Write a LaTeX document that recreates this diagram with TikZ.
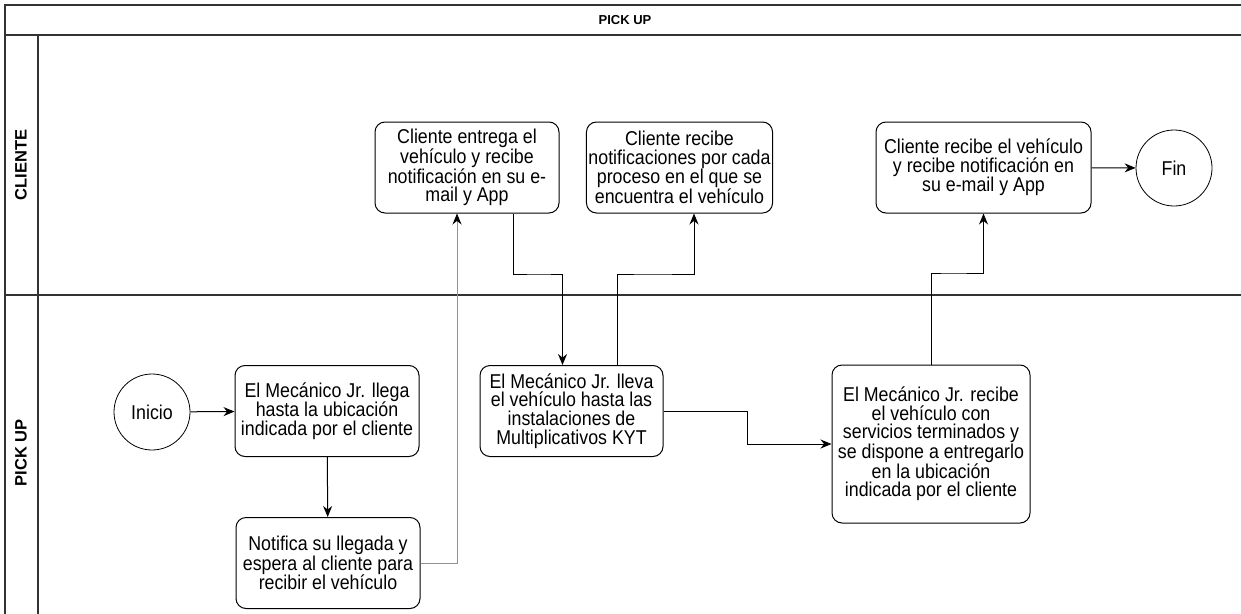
\documentclass[tikz,border=0pt]{standalone}
\usepackage{fontspec}
\setmainfont{Liberation Sans}
\newfontfamily\boxfont{Liberation Sans}[FakeStretch=0.89]
\usetikzlibrary{arrows.meta}

\begin{document}
\begin{tikzpicture}[x=1pt,y=-1pt,
  box/.style={draw,rounded corners=10pt,line width=1pt,align=center,inner sep=2pt,minimum height=91pt,font=\boxfont\fontsize{20}{18.6}\selectfont},
  term/.style={draw,circle,line width=0.8pt,minimum size=76pt,inner sep=0pt,font=\boxfont\fontsize{20}{18.6}\selectfont},
  flow/.style={line width=1pt,-{Stealth[length=11pt,width=9pt]}},
  flowgray/.style={line width=1pt,gray!85,-{Stealth[length=11pt,width=9pt,color=black]}},
  lane/.style={font=\fontsize{16.5}{16.5}\selectfont\bfseries,rotate=90}]
\useasboundingbox (0,0) rectangle (1241,613);
\clip (0,0) rectangle (1241,613);

\draw[line width=1.2pt,black!80] (5,625) -- (5,5) -- (1250,5);
\draw[line width=1.2pt,black!80] (5,35) -- (1250,35);
\draw[line width=1.2pt,black!80] (38,35) -- (38,625);
\draw[line width=1.2pt,black!80] (5,295) -- (1250,295);

\node[font=\fontsize{13}{13}\selectfont\bfseries] (title) at (625,20) {PICK UP};
\node[lane] (cliente) at (21,165) {CLIENTE};
\node[lane] (pickup) at (21,453) {PICK UP};


\node[term] (inicio) at (152,412) {Inicio};
\node[box,minimum width=184pt] (llega) at (327,411) {El Mecánico Jr. llega\\hasta la ubicación\\indicada por el cliente};
\node[box,minimum width=184pt] (notifica) at (328,563) {Notifica su llegada y\\espera al cliente para\\recibir el vehículo};
\node[box,minimum width=184pt] (entrega) at (467,167.5) {Cliente entrega el\\vehículo y recibe\\notificación en su e-\\mail y App};
\node[box,minimum width=185pt] (procesos) at (679.5,167.5) {Cliente recibe\\notificaciones por cada\\proceso en el que se\\encuentra el vehículo};
\node[box,minimum width=183pt] (lleva) at (571.5,411) {El Mecánico Jr. lleva\\el vehículo hasta las\\instalaciones de\\Multiplicativos KYT};
\node[box,minimum width=198pt,minimum height=158pt] (recibe) at (931,444) {El Mecánico Jr. recibe\\el vehículo con\\servicios terminados y\\se dispone a entregarlo\\en la ubicación\\indicada por el cliente};
\node[box,minimum width=215pt] (entregado) at (983.5,167.5) {Cliente recibe el vehículo\\y recibe notificación en\\su e-mail y App};
\node[term] (fin) at (1174,168) {Fin};

\coordinate (bend1) at (540,274);
\coordinate (bend2) at (650,274);
\coordinate (bend3) at (747,430);
\coordinate (bend4) at (950,273);

\draw[flow] (inicio) -- (llega);
\draw[flow] (llega) -- (notifica);
\draw[flowgray] (notifica.east) -| ([xshift=-10pt]entrega.south);
\draw[flow] ([xshift=46pt]entrega.south) |- (bend1) -| ([xshift=-9pt]lleva.north);
\draw[flow] ([xshift=46pt]lleva.north) |- (bend2) -| ([xshift=14.5pt]procesos.south);
\draw[flow] (lleva.east) -| (bend3) |- (recibe.west);
\draw[flow] (recibe.north) |- (bend4) -| (entregado.south);
\draw[flow] (entregado) -- (fin);
\end{tikzpicture}
\end{document}
